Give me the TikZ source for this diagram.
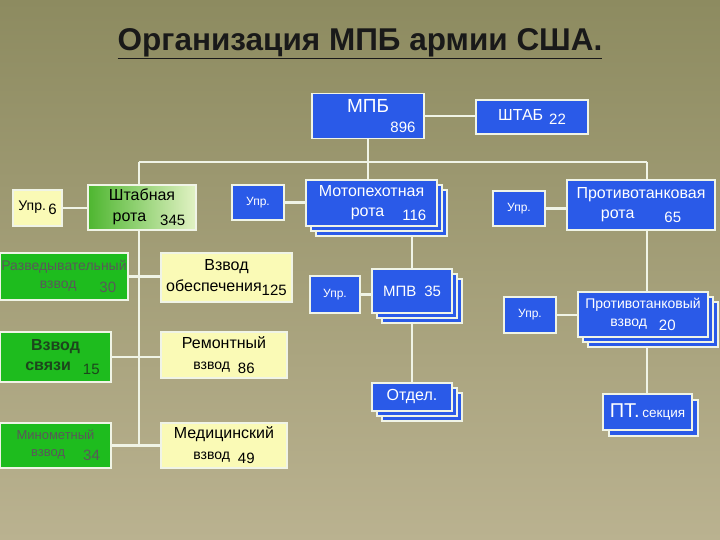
\documentclass[tikz,border=0pt]{standalone}
\usepackage{fontspec}
\setmainfont{Liberation Sans}
\usepackage{xcolor}
\usepackage{tikz}
\usetikzlibrary{backgrounds,shadows}
\definecolor{unitblue}{RGB}{42,90,232}
\definecolor{edge}{RGB}{240,244,230}
\definecolor{platgreen}{RGB}{30,188,30}
\definecolor{suppyellow}{RGB}{250,250,182}
\definecolor{hqgreen}{RGB}{78,182,48}
\definecolor{hqpale}{RGB}{226,242,196}
\definecolor{darkgreen}{RGB}{28,70,28}
\definecolor{bgtop}{RGB}{141,139,96}
\definecolor{bgmid}{RGB}{146,143,100}
\definecolor{bgbot}{RGB}{186,178,144}
\newcommand{\fsz}[1]{\fontsize{#1}{#1}\selectfont\baselineskip=1.3\baselineskip}
\newcommand{\pers}[1]{\raisebox{-4pt}{\fsz{15}#1}}
\tikzstyle{box}=[rectangle,draw=edge,line width=1.6pt,inner sep=1pt,align=center,font=\fsz{16}]
\tikzstyle{unit}=[box,fill=unitblue,text=white]
\tikzstyle{platoon}=[box,fill=platgreen,text=darkgreen]
\tikzstyle{support}=[box,fill=suppyellow,text=black]
\tikzstyle{hqcoy}=[box,left color=hqgreen,right color=hqpale,text=black]
\tikzstyle{ctrl}=[unit,minimum width=52pt,minimum height=35pt,font=\fsz{12}]
\tikzstyle{stack}=[copy shadow={shadow xshift=10pt,shadow yshift=-10pt},copy shadow={shadow xshift=5pt,shadow yshift=-5pt}]
\tikzstyle{pair}=[copy shadow={shadow xshift=6pt,shadow yshift=-6pt}]
\tikzstyle{link}=[draw=edge,line width=2.5pt]

\begin{document}
\begin{tikzpicture}[x=1pt,y=-1pt]
        \useasboundingbox (0,0) rectangle (720,540);
        \node at (360,44) [font=\fsz{31.5}\bfseries,text=black!90] (title) {\underline{Организация МПБ армии США.}};

        % battalion and staff
        \node at (368,116) [unit,minimum width=112pt,minimum height=45pt] (mpb) {{\fsz{19}МПБ}\\\hspace*{70pt}\fsz{15}896};
        \node at (532,117) [unit,minimum width=112pt,minimum height=34pt] (shtab) {ШТАБ\hspace{6pt}\pers{22}};

        % headquarters company
        \node at (37.5,208) [support,minimum width=49pt,minimum height=36pt,font=\fsz{14}] (upr6) {Упр.\,\pers{6}};
        \node at (142,207.5) [hqcoy,minimum width=108pt,minimum height=45pt] (shtr) {Штабная\\\hspace*{14pt}рота\hspace{14pt}\pers{345}};
        \node at (64,276.5) [platoon,minimum width=128pt,minimum height=47pt,font=\fsz{14},text=black!65] (razv) {Разведывательный\\\hspace*{28pt}взвод\hspace{23pt}\pers{30}};
        \node at (226.5,277.5) [support,minimum width=131pt,minimum height=49pt] (obesp) {Взвод\\обеспечения\pers{125}};
        \node at (55.5,357) [platoon,minimum width=111pt,minimum height=50pt,font=\fsz{16}\bfseries] (svyaz) {Взвод\\\hspace*{14pt}связи\hspace{12pt}{\mdseries\pers{15}}};
        \node at (224,355) [support,minimum width=126pt,minimum height=46pt] (remont) {Ремонтный\\{\fsz{14}взвод}\hspace{8pt}\pers{86}};
        \node at (55.5,445.5) [platoon,minimum width=111pt,minimum height=45pt,font=\fsz{13},text=black!65] (minom) {Минометный\\\hspace*{20pt}взвод\hspace{18pt}\pers{34}};
        \node at (224,445.5) [support,minimum width=126pt,minimum height=45pt] (med) {Медицинский\\{\fsz{14}взвод}\hspace{8pt}\pers{49}};

        % infantry companies
        \node at (258,202.5) [ctrl] (uprm) {Упр.};
        \node at (371.5,203) [unit,stack,minimum width=131pt,minimum height=46pt] (moto) {Мотопехотная\\\hspace*{34pt}рота\hspace{18pt}\pers{116}};
        \node at (335,294.5) [ctrl,minimum width=50pt,minimum height=37pt] (uprmpv) {Упр.};
        \node at (412,291) [unit,stack,minimum width=80pt,minimum height=44pt,font=\fsz{15}] (mpv) {МПВ\hspace{8pt}35};
        \node at (412,397) [unit,stack,minimum width=80pt,minimum height=28pt] (otdel) {Отдел.};

        % antitank company
        \node at (519,208.5) [ctrl] (uprpt) {Упр.};
        \node at (641,205) [unit,minimum width=148pt,minimum height=50pt] (ptrota) {Противотанковая\\рота\hspace{30pt}\pers{65}};
        \node at (530,315) [ctrl,minimum height=36pt] (uprptv) {Упр.};
        \node at (643,314.5) [unit,stack,minimum width=130pt,minimum height=45pt,font=\fsz{14}] (ptvzv) {Противотанковый\\взвод\hspace{12pt}\pers{20}};
        \node at (647.5,412) [unit,pair,minimum width=89pt,minimum height=36pt] (ptsec) {{\fsz{20}ПТ.}\,{\fsz{13.5}секция}};

        \coordinate (hqbar) at (139,162);
        \coordinate (ptbar) at (647,162);

        \begin{pgfonlayer}{background}
        \fill [top color=bgtop,middle color=bgmid,bottom color=bgbot] (0,0) rectangle (720,540);
        \draw [link] (mpb) -- (mpb -| shtab);
        \draw [link] (mpb) -- (mpb |- moto.north);
        \draw [link] (hqbar) -- (ptbar);
        \draw [link] (hqbar) -- (hqbar |- med);
        \draw [link] (ptbar) -- (ptbar |- ptsec);
        \draw [link] (upr6) -- (upr6 -| shtr);
        \draw [link] (razv) -- (razv -| obesp);
        \draw [link] (svyaz) -- (svyaz -| remont);
        \draw [link] (minom) -- (minom -| med);
        \draw [link] (uprm) -- (uprm -| moto);
        \draw [link] (mpv) -- (mpv |- moto);
        \draw [link] (mpv) -- (otdel);
        \draw [link] (uprmpv) -- (uprmpv -| mpv);
        \draw [link] (uprpt) -- (uprpt -| ptrota);
        \draw [link] (uprptv) -- (uprptv -| ptvzv);
        \end{pgfonlayer}
      \end{tikzpicture}
\end{document}
